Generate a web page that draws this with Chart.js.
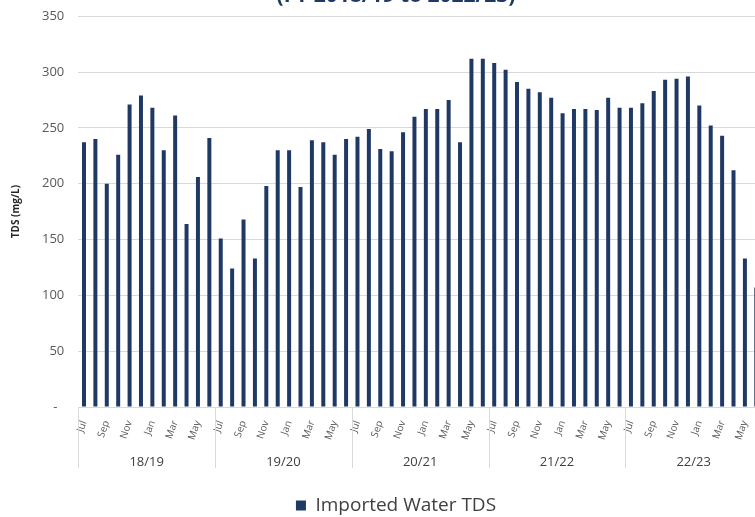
<!DOCTYPE html>
<html lang="en">
<head>
<meta charset="UTF-8">
<meta name="viewport" content="width=device-width, initial-scale=1.0">
<title>Imported Water TDS</title>
<script src="https://cdn.jsdelivr.net/npm/chart.js"></script>
<style>
	html, body { margin: 0; padding: 0; background: #fff; overflow: hidden; }
	#wrap { position: absolute; left: 0; top: -19px; width: 782px; height: 550px; }
</style>
</head>
<body>

<div id="wrap"><canvas id="tdsChart"></canvas></div>

<script>
	// fiscal years run Jul..Jun
	const fiscalYears = ["18/19", "19/20", "20/21", "21/22", "22/23"];
	const months = ["Jul", "Aug", "Sep", "Oct", "Nov", "Dec", "Jan", "Feb", "Mar", "Apr", "May", "Jun"];

	// monthly imported water TDS, mg/L
	const tdsValues = [
		237, 240, 200, 226, 271, 279, 268, 230, 261, 164, 206, 241,
		151, 124, 168, 133, 198, 230, 230, 197, 239, 237, 226, 240,
		242, 249, 231, 229, 246, 260, 267, 267, 275, 237, 312, 312,
		308, 302, 291, 285, 282, 277, 263, 267, 267, 266, 277, 268,
		268, 272, 283, 293, 294, 296, 270, 252, 243, 212, 133, 107
	];

	const labels = fiscalYears.flatMap(() => months);

	const FONT = '"Open Sans", sans-serif';
	const BAR_COLOR = "#1f3864";

	// second label row: fiscal year names with separators
	const yearGroups = {
		id: "yearGroups",
		afterDraw(chart) {
			const x = chart.scales.x;
			const ctx = chart.ctx;
			const step = x.getPixelForValue(1) - x.getPixelForValue(0);
			const top = x.top;
			ctx.save();
			ctx.strokeStyle = "#d9d9d9";
			ctx.lineWidth = 1;
			ctx.fillStyle = "#404040";
			ctx.font = "13px " + FONT;
			ctx.textAlign = "center";
			ctx.textBaseline = "middle";
			fiscalYears.forEach((fy, k) => {
				const left = x.getPixelForValue(k * 12) - step / 2;
				const right = x.getPixelForValue(k * 12 + 11) + step / 2;
				const lx = Math.round(left) + 0.5;
				ctx.beginPath();
				ctx.moveTo(lx, top);
				ctx.lineTo(lx, top + 61);
				ctx.stroke();
				ctx.fillText(fy, (left + right) / 2, top + 55);
			});
			ctx.restore();
		}
	};

	const tdsChart = new Chart(document.getElementById("tdsChart"), {
		type: "bar",
		data: {
			labels: labels,
			datasets: [{
				label: "Imported Water TDS",
				data: tdsValues,
				backgroundColor: BAR_COLOR,
				borderWidth: 0,
				barPercentage: 0.7,
				categoryPercentage: 0.5
			}]
		},
		options: {
			responsive: true,
			maintainAspectRatio: false,
			animation: false,
			layout: { padding: { left: 10, right: 0, top: 0, bottom: 6 } },
			plugins: {
				title: {
					display: true,
					text: "(FY 2018/19 to 2022/23)",
					color: "#1f3864",
					font: { family: FONT, size: 21, weight: "bold" },
					padding: { top: 2, bottom: 8 }
				},
				legend: {
					position: "bottom",
					labels: {
						color: "#404040",
						font: { family: FONT, size: 19 },
						boxWidth: 10,
						boxHeight: 10,
						padding: 10
					}
				},
				tooltip: { enabled: false }
			},
			scales: {
				x: {
					grid: { display: false },
					border: { display: true, color: "#d9d9d9" },
					ticks: {
						autoSkip: false,
						minRotation: 70,
						maxRotation: 70,
						padding: 4,
						color: "#595959",
						font: { family: FONT, size: 10 },
						callback: (v, i) => (i % 2 === 0 ? labels[i] : "")
					},
					afterFit: (scale) => { scale.height = 79; }
				},
				y: {
					min: 0,
					max: 350,
					grid: { color: "#d9d9d9", drawTicks: false },
					border: { display: false },
					ticks: {
						stepSize: 50,
						padding: 14,
						color: "#595959",
						font: { family: FONT, size: 13 },
						callback: (v) => (v === 0 ? "-  " : v)
					},
					title: {
						display: true,
						text: "TDS (mg/L)",
						color: "#262626",
						font: { family: FONT, size: 10, weight: "bold" },
						padding: { top: 0, bottom: 6 }
					}
				},
				// empty right-hand margin inside the chart frame
				yRight: {
					position: "right",
					display: true,
					grid: { drawOnChartArea: false, drawTicks: false },
					border: { display: false },
					ticks: { display: false },
					afterFit: (scale) => { scale.width = 20; }
				}
			}
		},
		plugins: [yearGroups]
	});
</script>
</body>
</html>
